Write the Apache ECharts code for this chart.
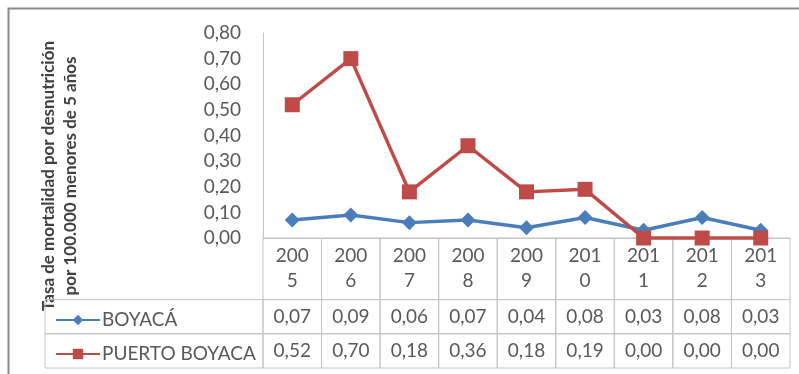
<!DOCTYPE html>
<html>
<head>
<meta charset="utf-8">
<script src="https://cdn.jsdelivr.net/npm/echarts@6/dist/echarts.min.js"></script>
<style>
  html, body { margin: 0; padding: 0; background: #fff; }
  #chart { width: 799px; height: 374px; }
</style>
</head>
<body>
<div id="chart"></div>
<script>
// Mortality rate from malnutrition per 100.000 children under 5
const years = ['2005', '2006', '2007', '2008', '2009', '2010', '2011', '2012', '2013'];
const boyaca = [0.07, 0.09, 0.06, 0.07, 0.04, 0.08, 0.03, 0.08, 0.03];
const puerto = [0.52, 0.70, 0.18, 0.36, 0.18, 0.19, 0.00, 0.00, 0.00];
const seriesNames = ['BOYACÁ', 'PUERTO BOYACA'];
const yTitle = ['Tasa de mortalidad por desnutrición', 'por 100.000 menores de 5 años'];

const FONT = 'Lato, "Liberation Sans", sans-serif';
const TEXT = '#595959';
const GRIDLINE = '#c4c4c4';
const BLUE = '#4A7EBB';
const RED = '#BE4B48';

const fmt = v => v.toFixed(2).replace('.', ',');

// Data table: header row (wrapped year) plus one row per series
const rowEdges = [0, 1.8, 2.8, 3.8];
const tableRows = [
  years.map(y => y.slice(0, 3) + '\n' + y.slice(3)),
  boyaca.map(fmt),
  puerto.map(fmt)
];
const tableData = [];
tableRows.forEach((row, r) => {
  row.forEach((txt, i) => tableData.push([i, rowEdges[r], rowEdges[r + 1], txt, r]));
});
const tableLeft = 45;

const chart = echarts.init(document.getElementById('chart'));
chart.setOption({
  animation: false,
  backgroundColor: '#fff',
  textStyle: { fontFamily: FONT },
  grid: [
    { left: 263, top: 33, width: 527, height: 205 },
    { left: 263, top: 238, width: 527, height: 130 }
  ],
  xAxis: [
    {
      gridIndex: 0, type: 'category', data: years, boundaryGap: true,
      axisLine: { lineStyle: { color: GRIDLINE, width: 1 } },
      axisTick: { show: false }, axisLabel: { show: false }
    },
    {
      gridIndex: 1, type: 'category', data: years, boundaryGap: true, show: false
    }
  ],
  yAxis: [
    {
      gridIndex: 0, type: 'value', min: 0, max: 0.8, interval: 0.1,
      axisLine: { show: true, lineStyle: { color: GRIDLINE, width: 1 } },
      axisTick: { show: false },
      splitLine: { show: false },
      axisLabel: {
        color: TEXT, fontSize: 19, fontFamily: FONT, margin: 22,
        formatter: v => fmt(v)
      }
    },
    {
      gridIndex: 1, type: 'value', min: 0, max: 3.8, inverse: true, show: false
    }
  ],
  legend: {
    orient: 'vertical', left: 50, top: 305, itemGap: 14,
    itemWidth: 44, itemHeight: 13,
    textStyle: { color: TEXT, fontSize: 19, fontFamily: FONT, lineHeight: 20, padding: [0, 0, 0, -3] },
    data: seriesNames
  },
  graphic: [
    {
      type: 'rect', shape: { x: 8.5, y: 8.5, width: 820, height: 400 },
      style: { fill: 'none', stroke: '#8a8a8a', lineWidth: 2 }, silent: true, z: 0
    },
    {
      type: 'text', x: 60, y: 176, rotation: Math.PI / 2,
      style: {
        text: yTitle.join('\n'), fill: '#404040', font: 'bold 17px ' + FONT,
        align: 'center', verticalAlign: 'middle', lineHeight: 22
      }
    }
  ],
  series: [
    {
      type: 'custom', xAxisIndex: 1, yAxisIndex: 1, z: 1, silent: true,
      data: tableData,
      renderItem: (params, api) => {
        const i = api.value(0);
        const p0 = api.coord([i, api.value(1)]);
        const p1 = api.coord([i, api.value(2)]);
        const w = api.size([1, 0])[0];
        const row = api.value(4);
        const children = [
          {
            type: 'rect',
            shape: { x: p0[0] - w / 2, y: p0[1], width: w, height: p1[1] - p0[1] },
            style: { fill: 'none', stroke: GRIDLINE, lineWidth: 1 }
          },
          {
            type: 'text',
            style: {
              text: tableData[params.dataIndex][3], x: p0[0], y: (p0[1] + p1[1]) / 2,
              align: 'center', verticalAlign: 'middle',
              fill: TEXT, font: '19px ' + FONT, lineHeight: 25
            }
          }
        ];
        if (i === 0 && row > 0) {
          const x0 = tableLeft;
          children.push({
            type: 'rect',
            shape: { x: x0, y: p0[1], width: p0[0] - w / 2 - x0, height: p1[1] - p0[1] },
            style: { fill: 'none', stroke: GRIDLINE, lineWidth: 1 }
          });
        }
        return { type: 'group', children };
      }
    },
    {
      name: seriesNames[0], type: 'line', data: boyaca, z: 5, clip: false,
      symbol: 'diamond', symbolSize: 15,
      lineStyle: { color: BLUE, width: 3.5 },
      itemStyle: { color: BLUE }
    },
    {
      name: seriesNames[1], type: 'line', data: puerto, z: 6, clip: false,
      symbol: 'rect', symbolSize: 15,
      lineStyle: { color: RED, width: 3.5 },
      itemStyle: { color: RED }
    }
  ]
});
</script>
</body>
</html>
